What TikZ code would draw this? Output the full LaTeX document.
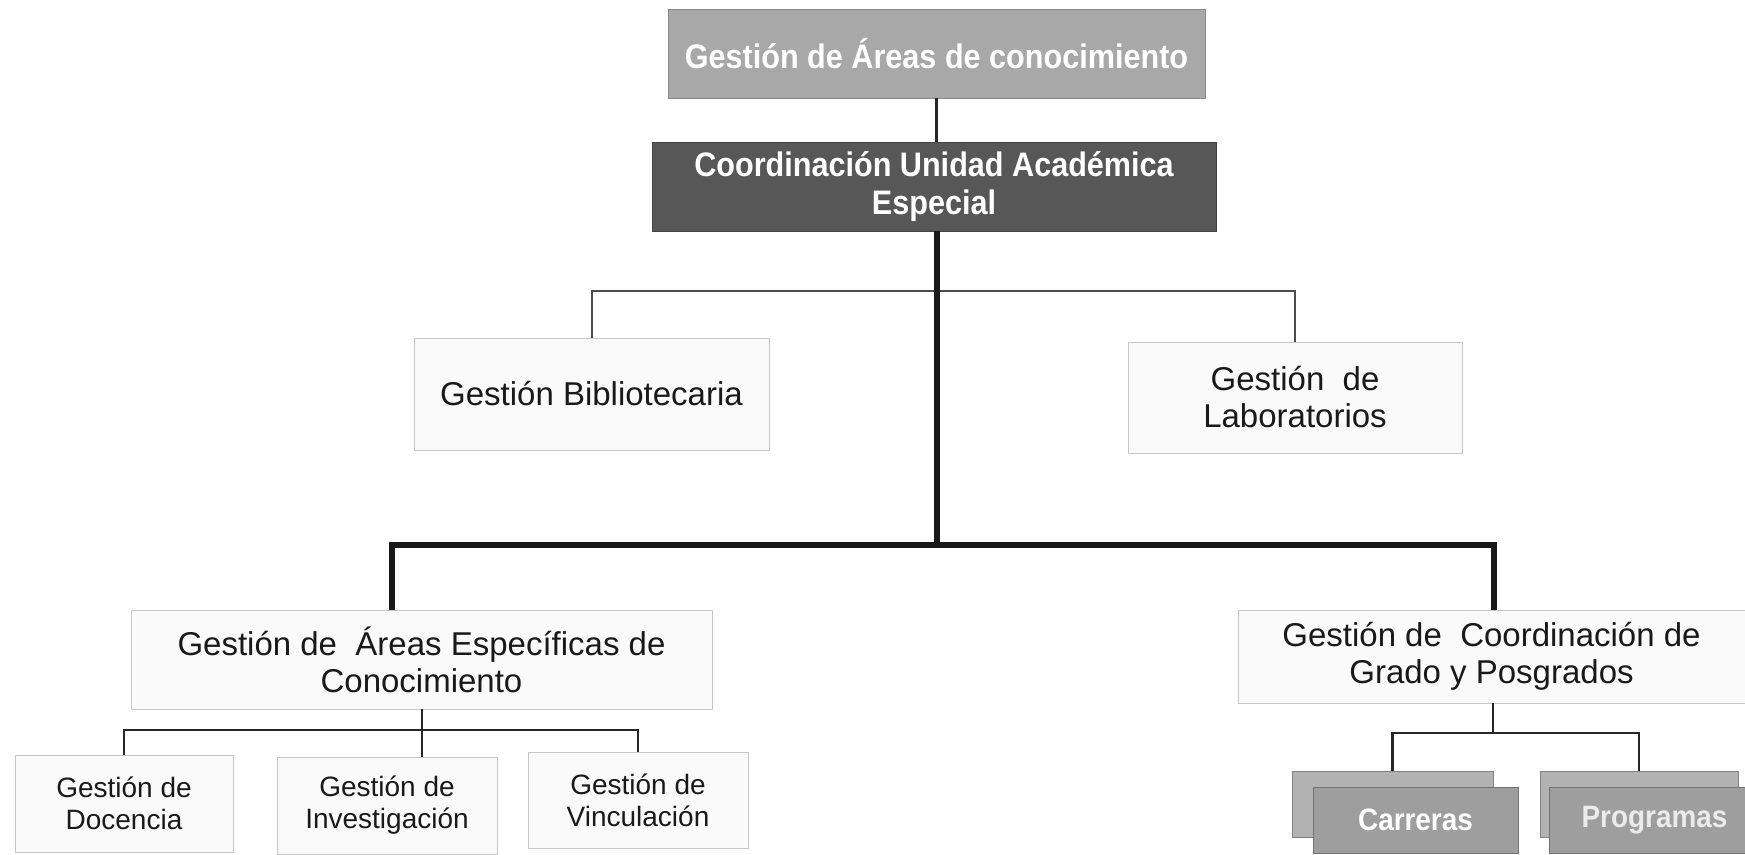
\documentclass[tikz,border=0pt]{standalone}
\usepackage{fontspec}
\setmainfont{Liberation Sans}
\newfontfamily\condfont[FakeStretch=0.9]{Liberation Sans}
\definecolor{topfill}{HTML}{A8A8A8}
\definecolor{topdraw}{HTML}{8A8A8A}
\definecolor{coordfill}{HTML}{575757}
\definecolor{coorddraw}{HTML}{444444}
\begin{document}
\begin{tikzpicture}[x=1pt,y=-1pt,
  darkbox/.style={inner sep=0pt,align=center,text=white,
     font=\condfont\bfseries\fontsize{34}{38}\selectfont},
  lightbox/.style={draw=black!22,fill=black!2,inner sep=0pt,align=center,text=black!90,
     font=\fontsize{33}{37}\selectfont},
  smallbox/.style={draw=black!22,fill=black!2,inner sep=0pt,align=center,text=black!90,
     font=\fontsize{28}{32}\selectfont},
  stackback/.style={draw=black!50,fill=black!30,inner sep=0pt},
  stackfront/.style={draw=black!55,fill=black!38,inner sep=0pt,
     font=\condfont\bfseries\fontsize{31}{35}\selectfont},
  thinline/.style={draw=black!70,line width=2pt},
  medline/.style={draw=black!85,line width=2.5pt},
  thickline/.style={draw=black!90,line width=6pt}
]
\clip (0,0) rectangle (1745,854);
\fill[white] (0,0) rectangle (1745,854);

% nodes
\node[darkbox,draw=topdraw,fill=topfill,minimum width=537,minimum height=89] (top) at (936.5,53.5) {Gestión de Áreas de conocimiento};
\node[darkbox,draw=coorddraw,fill=coordfill,minimum width=564,minimum height=89] (coord) at (934,186.5) {Coordinación Unidad Académica\\Especial};
\node[lightbox,minimum width=355,minimum height=112] (bib) at (591.5,394) {Gestión Bibliotecaria};
\node[lightbox,minimum width=334,minimum height=111] (lab) at (1295,397.5) {Gestión~ de\\Laboratorios};
\node[lightbox,minimum width=581,minimum height=99] (areas) at (421.5,659.5) {Gestión de~ Áreas Específicas de\\Conocimiento};
\node[lightbox,minimum width=507,minimum height=93] (grado) at (1491.5,656.5) {Gestión de~ Coordinación de\\Grado y Posgrados};
\node[smallbox,minimum width=218,minimum height=97] (doc) at (124,803.5) {Gestión de\\Docencia};
\node[smallbox,minimum width=220,minimum height=97] (inv) at (387,805.5) {Gestión de\\Investigación};
\node[smallbox,minimum width=220,minimum height=96] (vin) at (638,800) {Gestión de\\Vinculación};
\node[stackback,minimum width=201,minimum height=66] (carb) at (1392.5,804) {};
\node[stackfront,minimum width=205,minimum height=66,text=white] (carf) at (1415.5,820) {Carreras};
\node[stackback,minimum width=198,minimum height=66] (prob) at (1639,804) {};
\node[stackfront,minimum width=211,minimum height=66,text=black!8] (prof) at (1654.5,820) {Programas};

% junction coordinates
\coordinate (bus1) at (937,291);
\coordinate (tl) at (392,545);
\coordinate (tr) at (1494,545);
\coordinate (bus2) at (422,730);
\coordinate (bus3) at (1493,733);

% connectors
\draw[medline] (top.south) -- (top.south |- coord.north);
\draw[thinline] (bib.north) |- (bus1) -| (lab.north);
\draw[thickline] (top.south |- coord.south) -- (top.south |- tl);
\draw[thickline,line join=miter] (tl |- areas.north) -- (tl) -- (tr) -- (tr |- grado.north);
\draw[medline] (areas.south -| bus2) -- (bus2 |- inv.north);
\draw[medline] (doc.north) |- (bus2) -| (vin.north);
\draw[medline] (grado.south -| bus3) -- (bus3);
\draw[medline] (carb.north) |- (bus3) -| (prob.north);
\end{tikzpicture}
\end{document}
